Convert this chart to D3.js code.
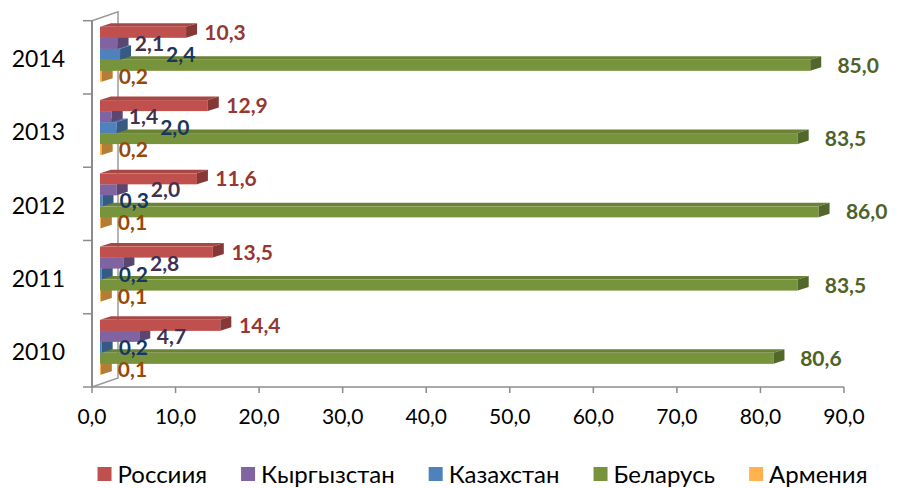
<!DOCTYPE html>
<html>
<head>
<meta charset="utf-8">
<script src="https://cdn.jsdelivr.net/npm/d3@7"></script>
<style>
  body { margin:0; background:#fff; }
  svg { display:block; font-family: Lato, "Noto Sans", sans-serif; }
</style>
</head>
<body>
<svg id="chart" width="899" height="488"></svg>
<script>
// data
var years=['2010','2011','2012','2013','2014']
var series=['Россиия','Кыргызстан','Казахстан','Беларусь','Армения']
var russia=[14.4,13.5,11.6,12.9,10.3]
var kyrgyzstan=[4.7,2.8,2.0,1.4,2.1]
var kazakhstan=[0.2,0.2,0.3,2.0,2.4]
var belarus=[80.6,83.5,86.0,83.5,85.0]
var armenia=[0.1,0.1,0.1,0.2,0.2]
var xTicks=[0,10,20,30,40,50,60,70,80,90]

var values=[russia,kyrgyzstan,kazakhstan,belarus,armenia]
var colors=['#C0504D','#8064A2','#4F81BD','#77933C','#FFB24D']
var labelColors=['#953735','#403152','#17375E','#4F6228','#984807']

var svg=d3.select('#chart')
var plot={left:92,right:844,top:20.7,bottom:387}
var wall={dx:26,dy:-9}
var front={dx:8,dy:-3}
var depth={dx:11,dy:-3.6}
var fmt=function(v){return d3.format('.1f')(v).replace('.',',')}

var x=d3.scaleLinear().domain([0,90]).range([plot.left,plot.right])
var y=d3.scaleBand().domain(years.slice().reverse()).range([plot.top,plot.bottom])
var yInner=d3.scaleBand().domain(series).range([0,y.bandwidth()]).paddingOuter(0.83)

var g={
    wall:svg.append('g'),
    bars:svg.append('g'),
    labels:svg.append('g'),
    axis:svg.append('g')
}

// side wall edges
var wallPts=[[plot.left,plot.top],[plot.left+wall.dx,plot.top+wall.dy],[plot.left+wall.dx,plot.bottom+wall.dy],[plot.left,plot.bottom]]
g.wall.append('path')
    .attr('d','M'+wallPts[0]+'L'+wallPts[1]+'L'+wallPts[2]+'L'+wallPts[3])
    .attr('fill','none').attr('stroke','#9a9a9a').attr('stroke-width',1.5)

// bars
var bars=[]
years.forEach(function(yr,yi){
    series.forEach(function(s,si){
        var v=values[si][yi]
        var y0=y(yr)+yInner(s)+front.dy
        var y1=y0+yInner.bandwidth()
        var x0=x(0)+front.dx
        var x1=x(v)+front.dx
        bars.push({yr:yr,si:si,v:v,x0:x0,x1:x1,y0:y0,y1:y1})
    })
})
// draw bottom series first so upper bars hide lower tops
var order=bars.slice().sort(function(a,b){return b.si-a.si})
var bg=g.bars.selectAll('g').data(order).join('g')
bg.append('path')
    .attr('d',function(d){return 'M'+d.x0+','+d.y0+'L'+(d.x0+depth.dx)+','+(d.y0+depth.dy)+'L'+(d.x1+depth.dx)+','+(d.y0+depth.dy)+'L'+d.x1+','+d.y0+'Z'})
    .attr('fill',function(d){return d3.color(colors[d.si]).darker(0.35)})
bg.append('rect')
    .attr('x',function(d){return d.x0})
    .attr('y',function(d){return d.y0})
    .attr('width',function(d){return Math.max(0,d.x1-d.x0)})
    .attr('height',function(d){return d.y1-d.y0})
    .attr('fill',function(d){return colors[d.si]})
bg.append('path')
    .attr('d',function(d){return 'M'+d.x1+','+d.y0+'L'+(d.x1+depth.dx)+','+(d.y0+depth.dy)+'L'+(d.x1+depth.dx)+','+(d.y1+depth.dy)+'L'+d.x1+','+d.y1+'Z'})
    .attr('fill',function(d){return d3.color(colors[d.si]).darker(1.0)})

// data labels, placed in order of value and pushed right when they collide
var placed=[]
years.forEach(function(yr){
    var row=bars.filter(function(d){return d.yr==yr}).sort(function(a,b){return a.v-b.v})
    row.forEach(function(d){
        var cy=(d.y0+d.y1)/2
        var t=g.labels.append('text')
            .attr('font-size',21).attr('font-weight',700)
            .attr('fill',labelColors[d.si])
            .text(fmt(d.v))
        var w=t.node().getComputedTextLength()
        var lx=d.x1+depth.dx+6+d.v*0.12
        placed.forEach(function(p){
            if(p.yr==yr && Math.abs(p.cy-cy)<15 && lx<p.x+p.w+2 && lx+w>p.x) lx=p.x+p.w+2
        })
        placed.push({yr:yr,x:lx,w:w,cy:cy})
        t.attr('x',lx).attr('y',cy+7.6)
    })
})

// axes
g.axis.append('line')
    .attr('x1',plot.left).attr('x2',plot.left).attr('y1',plot.top).attr('y2',plot.bottom)
    .attr('stroke','#8c8c8c').attr('stroke-width',2)
g.axis.append('line')
    .attr('x1',plot.left).attr('x2',plot.right).attr('y1',plot.bottom).attr('y2',plot.bottom)
    .attr('stroke','#8c8c8c').attr('stroke-width',1.5)
g.axis.selectAll('.ytick').data(years.concat(['end'])).join('line')
    .attr('x1',plot.left-9).attr('x2',plot.left)
    .attr('y1',function(d,i){return i<years.length?y(d)+y.bandwidth():plot.top})
    .attr('y2',function(d,i){return i<years.length?y(d)+y.bandwidth():plot.top})
    .attr('stroke','#8c8c8c').attr('stroke-width',1.5)
g.axis.selectAll('.xtick').data(xTicks).join('line')
    .attr('x1',d=>x(d)).attr('x2',d=>x(d)).attr('y1',plot.bottom).attr('y2',plot.bottom+6)
    .attr('stroke','#8c8c8c').attr('stroke-width',1.5)
g.axis.selectAll('.xlab').data(xTicks).join('text')
    .attr('x',d=>x(d)).attr('y',424)
    .attr('text-anchor','middle').attr('font-size',21).attr('fill','#000')
    .text(fmt)
g.axis.selectAll('.ylab').data(years).join('text')
    .attr('x',65).attr('y',d=>y(d)+y.bandwidth()/2+1.5+8.2)
    .attr('text-anchor','end').attr('font-size',23).attr('fill','#000')
    .text(d=>d)

// legend
var lg=svg.append('g')
var items=lg.selectAll('g').data(series).join('g')
items.append('rect').attr('width',14).attr('height',14).attr('y',467).attr('fill',(d,i)=>colors[i])
items.append('text').attr('x',20).attr('y',483).attr('font-size',24).attr('fill','#000').text(d=>d)
var pos=0,offs=[]
items.each(function(){
    offs.push(pos)
    pos+=20+d3.select(this).select('text').node().getComputedTextLength()+34
})
var total=pos-34
items.attr('transform',(d,i)=>'translate('+(482.5-total/2+offs[i])+',0)')
</script>
</body>
</html>
